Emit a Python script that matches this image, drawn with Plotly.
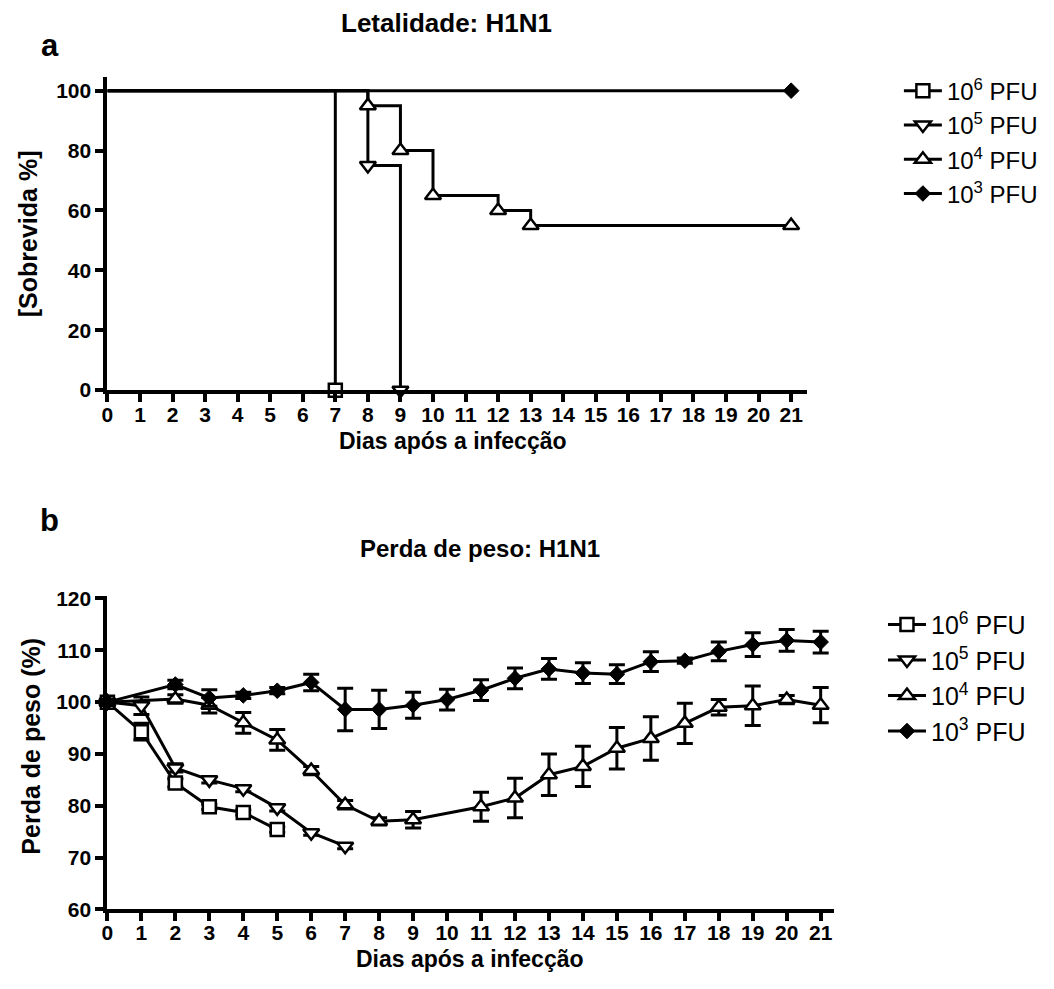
import plotly.graph_objects as go

W, H = 1054, 989
FONT = "Liberation Sans, Arial, sans-serif"

# ---------------- data ----------------
day_ticks = list(range(0, 22))
legend_names = ["10<sup>6</sup> PFU", "10<sup>5</sup> PFU", "10<sup>4</sup> PFU", "10<sup>3</sup> PFU"]

# Panel a: survival (Kaplan-Meier steps)
surv_days_1e6 = [0, 7]
surv_1e6 = [100, 0]
surv_days_1e5 = [0, 8, 9]
surv_1e5 = [100, 75, 0]
surv_days_1e4 = [0, 8, 9, 10, 12, 13, 21]
surv_1e4 = [100, 95, 80, 65, 60, 55, 55]
surv_days_1e3 = [0, 21]
surv_1e3 = [100, 100]

# Panel b: weight (%), mean and error
w_days_1e6 = [0, 1, 2, 3, 4, 5]
w_1e6 = [100, 94.3, 84.4, 79.8, 78.7, 75.4]
w_err_1e6 = [0.5, 1.6, 0.8, 0.5, 0.5, 0.5]

w_days_1e5 = [0, 1, 2, 3, 4, 5, 6, 7]
w_1e5 = [100, 99.3, 87.3, 85.0, 83.3, 79.6, 74.8, 72.2]
w_err_1e5 = [0.5, 1.7, 0.8, 0.6, 0.6, 0.6, 0.5, 0.5]

w_days_1e4 = [0, 2, 3, 4, 5, 6, 7, 8, 9, 11, 12, 13, 14, 15, 16, 17, 18, 19, 20, 21]
w_1e4 = [100, 100.6, 99.4, 96.0, 92.7, 86.8, 80.2, 77.0, 77.3, 79.8, 81.5, 86.0, 87.6, 91.1, 93.0, 95.9, 99.0, 99.3, 100.5, 99.4]
w_err_1e4 = [0.5, 0.8, 1.5, 2.0, 2.0, 0.8, 0.8, 0.7, 1.6, 2.8, 3.8, 4.0, 3.9, 4.0, 4.2, 3.9, 1.5, 3.8, 0.8, 3.4]

w_days_1e3 = [0, 2, 3, 4, 5, 6, 7, 8, 9, 10, 11, 12, 13, 14, 15, 16, 17, 18, 19, 20, 21]
w_1e3 = [100, 103.4, 100.8, 101.3, 102.2, 103.8, 98.6, 98.6, 99.4, 100.5, 102.3, 104.6, 106.4, 105.6, 105.4, 107.8, 108.0, 109.8, 111.1, 111.9, 111.6]
w_err_1e3 = [0.5, 0.8, 1.6, 0.6, 0.6, 1.6, 4.1, 3.7, 2.5, 2.0, 2.0, 2.0, 2.0, 2.0, 1.8, 1.9, 0.5, 1.8, 2.3, 2.1, 2.1]

# ---------------- styles ----------------
def px(x):
    return x / W

def py(y):
    return 1 - y / H

styles = [
    dict(symbol="square", size=13, color="white", line=dict(color="black", width=2.5)),
    dict(symbol="triangle-down", size=14, color="white", line=dict(color="black", width=2.5)),
    dict(symbol="triangle-up", size=14, color="white", line=dict(color="black", width=2.5)),
    dict(symbol="diamond", size=12, color="black", line=dict(color="black", width=1)),
]

fig = go.Figure()

surv = [(surv_days_1e6, surv_1e6), (surv_days_1e5, surv_1e5),
        (surv_days_1e4, surv_1e4), (surv_days_1e3, surv_1e3)]
for i, (d, v) in enumerate(surv):
    fig.add_trace(go.Scatter(
        x=d, y=v, mode="lines+markers", name=legend_names[i],
        line=dict(color="black", width=3, shape="hv"),
        marker=styles[i], selectedpoints=list(range(1, len(d))),
        unselected=dict(marker=dict(opacity=0)),
        cliponaxis=False, xaxis="x", yaxis="y", legend="legend",
    ))

weights = [(w_days_1e6, w_1e6, w_err_1e6), (w_days_1e5, w_1e5, w_err_1e5),
           (w_days_1e4, w_1e4, w_err_1e4), (w_days_1e3, w_1e3, w_err_1e3)]
for i, (d, v, e) in enumerate(weights):
    fig.add_trace(go.Scatter(
        x=d, y=v, mode="lines+markers", name=legend_names[i],
        line=dict(color="black", width=3),
        marker=styles[i],
        error_y=dict(type="data", array=e, visible=True, color="black", thickness=3, width=8),
        cliponaxis=False, xaxis="x2", yaxis="y2", legend="legend2",
    ))

axis_common = dict(
    showline=True, linecolor="black", linewidth=4, ticks="outside", ticklen=8,
    tickwidth=3.5, tickcolor="black", showgrid=False, zeroline=False,
    tickfont=dict(family=FONT, size=21, color="black", weight="bold"),
)

fig.update_layout(
    autosize=True, margin=dict(l=0, r=0, t=0, b=0),
    paper_bgcolor="white", plot_bgcolor="white", showlegend=True,
    xaxis=dict(domain=[px(102), px(806)], range=[0, 21.5], tickvals=day_ticks,
               anchor="y", ticklabelstandoff=-5, **axis_common),
    yaxis=dict(domain=[py(389), py(69)], range=[0, 104.7], tickvals=[0, 20, 40, 60, 80, 100],
               anchor="x", **axis_common),
    xaxis2=dict(domain=[px(102), px(833)], range=[0, 21.4], tickvals=day_ticks,
                anchor="y2", ticklabelstandoff=-7, **axis_common),
    yaxis2=dict(domain=[py(919), py(599)], range=[60, 120.5], tickvals=[60, 70, 80, 90, 100, 110, 120],
                anchor="x2", **axis_common),
    legend=dict(x=px(898), y=py(61), xanchor="left", yanchor="top", itemwidth=38,
                font=dict(family=FONT, size=24, color="black"),
                bgcolor="rgba(0,0,0,0)"),
    legend2=dict(x=px(882), y=py(605), xanchor="left", yanchor="top", itemwidth=38,
                 font=dict(family=FONT, size=25, color="black"),
                 bgcolor="rgba(0,0,0,0)"),
)

def ann(text, x, y, size, angle=0):
    fig.add_annotation(text=text, x=px(x), y=py(y), xref="paper", yref="paper",
                       showarrow=False, textangle=angle, xanchor="center", yanchor="middle",
                       font=dict(family=FONT, size=size, color="black", weight="bold"))

ann("a", 44, 37, 31)
ann("Letalidade: H1N1", 443, 14, 26)
ann("Dias após a infecção", 450, 441, 23)
ann("[Sobrevida %]", 22, 229, 25, -90)
ann("b", 44, 522, 31)
ann("Perda de peso: H1N1", 477, 551, 24)
ann("Dias após a infecção", 467, 970, 23)
ann("Perda de peso (%)", 25, 752, 25, -90)

post = (
    "document.documentElement.style.margin='0';"
    "document.documentElement.style.overflow='hidden';"
    "document.body.style.margin='0';"
    "document.body.style.overflow='hidden';"
    "var gd=document.getElementsByClassName('plotly-graph-div')[0];"
    "Plotly.Plots.resize(gd);"
)
fig.write_html("out.html", default_width="100vw", default_height="100vh",
               config={"displayModeBar": False, "responsive": True},
               post_script=post)
